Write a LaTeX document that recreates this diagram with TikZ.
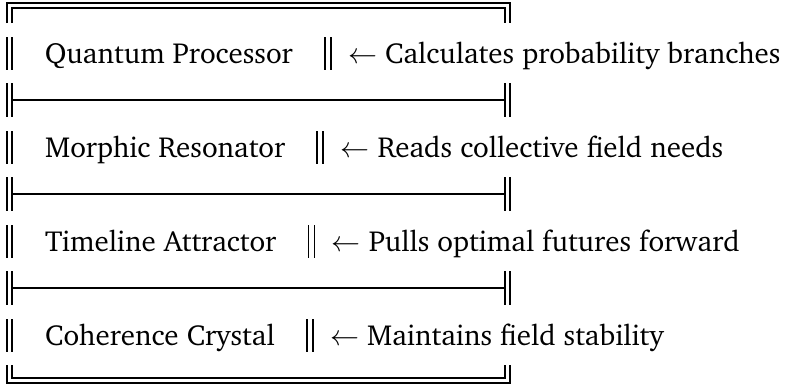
\RequirePackage{fix-cm}
\documentclass[tikz,border=0pt]{standalone}
\usepackage[T1]{fontenc}
\usepackage{charter}
\usepackage{tikz}
\usetikzlibrary{positioning,calc}

\begin{document}
\begin{tikzpicture}[x=1pt, y=-1pt, every node/.style={font=\fontsize{29}{35}\selectfont}, bar/.style={line width=1.8pt}, lbl/.style={anchor=base west,inner sep=0pt}, note/.style={anchor=base west,inner sep=0pt}]
\useasboundingbox (0,0) rectangle (787,386);
% outer frame
\draw[bar] (7,23) -- (7,3) -- (510,3) -- (510,23);
\draw[bar] (12,23) -- (12,8) -- (505,8) -- (505,23);
\draw[bar] (7,365) -- (7,383) -- (510,383) -- (510,365);
\draw[bar] (12,365) -- (12,378) -- (505,378) -- (505,365);
% separators
\foreach \y in {100,194,288} {
  \draw[bar] (7,\y-17) -- (7,\y+17);
  \draw[bar] (12,\y-17) -- (12,\y+17);
  \draw[bar] (12,\y) -- (505,\y);
  \draw[bar] (505,\y-17) -- (505,\y+17);
  \draw[bar] (510,\y-17) -- (510,\y+17);
}
% left bars of the rows
\foreach \y in {53,147,241,335} {
  \draw[bar] (7,\y-16) -- (7,\y+17);
  \draw[bar] (12,\y-16) -- (12,\y+17);
}
% rows
\node[lbl] (qp) at (45,63) {Quantum Processor};
\coordinate (qpbar) at ($(qp.base east)+(35,-10)$);
\node[note] (qpnote) at ($(qpbar)+(20,10)$) {$\leftarrow$ Calculates probability branches};

\node[lbl] (mr) at (45,157) {Morphic Resonator};
\coordinate (mrbar) at ($(mr.base east)+(35,-10)$);
\node[note] (mrnote) at ($(mrbar)+(20,10)$) {$\leftarrow$ Reads collective field needs};

\node[lbl] (ta) at (45,251) {Timeline Attractor};
\coordinate (tabar) at ($(ta.base east)+(35,-10)$);
\node[note] (tanote) at ($(tabar)+(20,10)$) {$\leftarrow$ Pulls optimal futures forward};

\node[lbl] (cc) at (45,345) {Coherence Crystal};
\coordinate (ccbar) at ($(cc.base east)+(35,-10)$);
\node[note] (ccnote) at ($(ccbar)+(20,10)$) {$\leftarrow$ Maintains field stability};

% middle bars
\foreach \c in {qpbar,mrbar,tabar,ccbar} {
  \draw[bar] ($(\c)+(-3,-16)$) -- ($(\c)+(-3,17)$);
  \draw[bar] ($(\c)+(3,-16)$) -- ($(\c)+(3,17)$);
}
\end{tikzpicture}
\end{document}
